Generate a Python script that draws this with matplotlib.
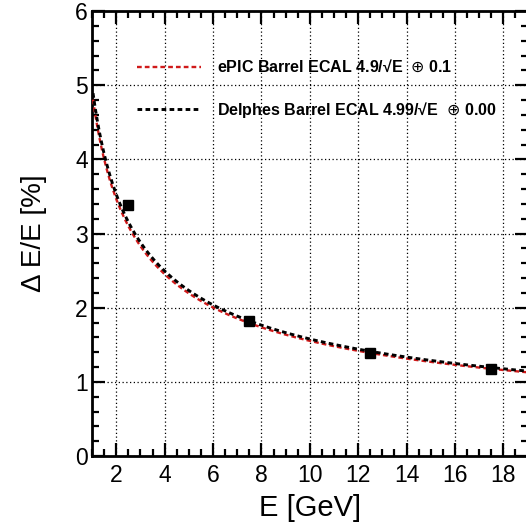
import numpy as np
import matplotlib
matplotlib.use("Agg")
import matplotlib.pyplot as plt
from matplotlib.ticker import MultipleLocator

# Data points
E_points = [2.5, 7.5, 12.5, 17.5]
res_points = [3.38, 1.82, 1.39, 1.17]

# Fit parameters (stochastic, constant) in %
epic_params = [4.9, 0.1]
delphes_params = [4.99, 0.00]
epic_label = "ePIC Barrel ECAL 4.9/\u221aE  $\\oplus$ 0.1"
delphes_label = "Delphes Barrel ECAL 4.99/\u221aE  $\\oplus$ 0.00"

plt.rcParams['font.family'] = ['Liberation Sans', 'DejaVu Sans']
plt.rcParams['mathtext.fontset'] = 'dejavusans'

fig = plt.figure(figsize=(5.26, 5.29), dpi=100)
ax = fig.add_axes([0.175, 0.138, 0.828, 0.841])

E = np.linspace(1.04, 19, 400)
def reso(e, a, b):
    return np.sqrt((a / np.sqrt(e))**2 + b**2)

ax.plot(E, reso(E, *epic_params), color='#d01a1a', lw=1.7,
        linestyle=(0, (2.0, 1.3)), label=epic_label, zorder=3)
ax.plot(E, reso(E, *delphes_params), color='black', lw=2.1,
        linestyle=(0, (1.6, 1.15)), label=delphes_label, zorder=4)
ax.plot(E_points, res_points, 's', color='black', ms=7.5, zorder=5)

ax.set_xlim(1, 19)
ax.set_ylim(0, 6)
ax.xaxis.set_major_locator(MultipleLocator(2))
ax.xaxis.set_minor_locator(MultipleLocator(0.5))
ax.yaxis.set_major_locator(MultipleLocator(1))
ax.yaxis.set_minor_locator(MultipleLocator(0.2))
ax.tick_params(which='both', direction='in', top=True, right=True, width=1.6,
               labelsize=16.5)
ax.tick_params(which='major', length=9.5)
ax.tick_params(which='minor', length=5)
ax.tick_params(axis='x', pad=6)
ax.tick_params(axis='y', pad=3)
for s in ax.spines.values():
    s.set_linewidth(2)
ax.grid(True, which='major', linestyle=(0, (1, 2)), color='black', lw=0.9)

ax.set_xlabel("E [GeV]", fontsize=21, labelpad=5)
ax.set_ylabel("\u0394 E/E [%]", fontsize=20, labelpad=20)

leg = ax.legend(loc='upper left', bbox_to_anchor=(0.07, 0.925), frameon=False,
                prop={'weight': 'bold', 'size': 11.5}, handlelength=4.0,
                handletextpad=1.0, labelspacing=1.55)

fig.savefig("out.png", dpi=100)
